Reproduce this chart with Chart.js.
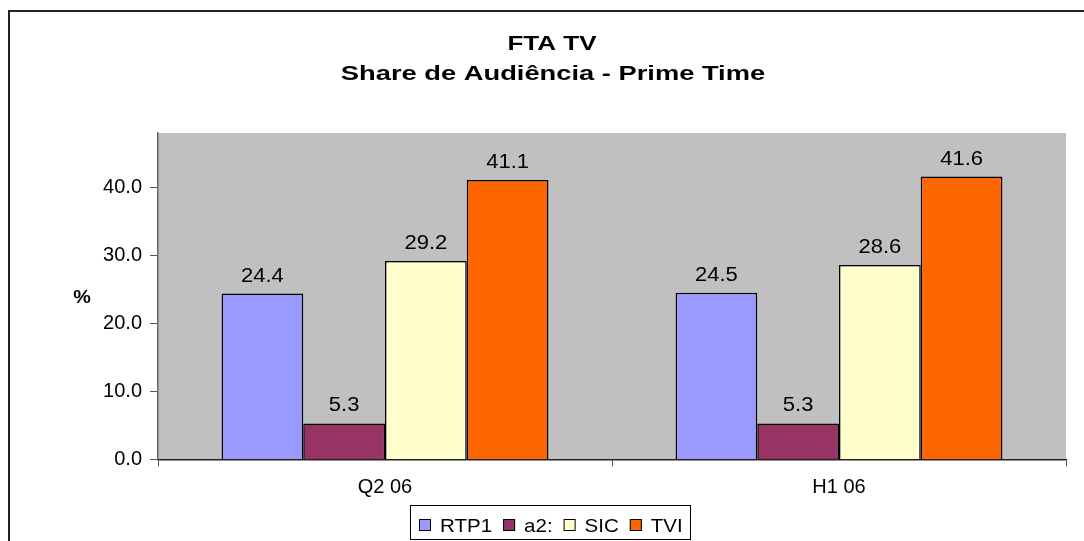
<!DOCTYPE html>
<html>
<head>
<meta charset="utf-8">
<script src="https://cdn.jsdelivr.net/npm/chart.js@4.4.1/dist/chart.umd.min.js"></script>
<style>
  html, body { margin: 0; padding: 0; background: #fff; overflow: hidden; }
  #wrap { width: 1084px; height: 541px; position: relative; }
</style>
</head>
<body>
<div id="wrap"><canvas id="c" width="1084" height="541"></canvas></div>
<script>
const categories = ['Q2 06', 'H1 06'];
const seriesNames = ['RTP1', 'a2:', 'SIC', 'TVI'];
const rtp1 = [24.4, 24.5];
const a2 = [5.3, 5.3];
const sic = [29.2, 28.6];
const tvi = [41.1, 41.6];
const seriesColors = ['#9999FF', '#993366', '#FFFFCC', '#FF6600'];
const titleLines = ['FTA TV', 'Share de Audiência - Prime Time'];

const FONT = '"Liberation Sans", Arial, sans-serif';

// text drawn by hand is a bit wider than plain Arial in the reference
function stretchText(ctx, text, x, y, sx, align) {
  ctx.save();
  ctx.translate(x, y);
  ctx.scale(sx, 1);
  ctx.textAlign = align || 'center';
  ctx.fillText(text, 0, 0);
  ctx.restore();
}

const decorPlugin = {
  id: 'decor',
  beforeDraw(chart) {
    const { ctx, chartArea: a } = chart;
    ctx.save();
    ctx.fillStyle = '#C0C0C0';
    ctx.fillRect(a.left, a.top, a.right - a.left, a.bottom - a.top);
    ctx.restore();
  },
  afterDraw(chart) {
    const ctx = chart.ctx;
    ctx.save();
    // outer frame (only left and top edges are visible)
    ctx.strokeStyle = '#222';
    ctx.lineWidth = 2;
    ctx.beginPath();
    ctx.moveTo(9, 545);
    ctx.lineTo(9, 11);
    ctx.lineTo(1090, 11);
    ctx.stroke();

    // title
    ctx.fillStyle = '#000';
    ctx.textBaseline = 'alphabetic';
    ctx.font = 'bold 20px ' + FONT;
    stretchText(ctx, titleLines[0], 552, 50, 1.3);
    ctx.font = 'bold 21px ' + FONT;
    stretchText(ctx, titleLines[1], 553, 80, 1.3);

    // y axis title
    ctx.font = 'bold 18px ' + FONT;
    stretchText(ctx, '%', 82, 303, 1.1);

    // value labels
    ctx.font = '20px ' + FONT;
    chart.data.datasets.forEach((ds, i) => {
      const meta = chart.getDatasetMeta(i);
      meta.data.forEach((bar, j) => {
        stretchText(ctx, ds.data[j].toFixed(1), bar.x, bar.y - 12, 1.1);
      });
    });

    // legend with frame
    ctx.strokeStyle = '#000';
    ctx.lineWidth = 1;
    ctx.strokeRect(410.5, 505.5, 280, 34);
    let x = 419;
    const cy = 525;
    ctx.font = '19px ' + FONT;
    chart.data.datasets.forEach((ds) => {
      ctx.fillStyle = ds.backgroundColor;
      ctx.fillRect(x, cy - 6, 12, 12);
      ctx.strokeStyle = '#000';
      ctx.strokeRect(x + 0.5, cy - 5.5, 11, 11);
      ctx.fillStyle = '#000';
      const w = ctx.measureText(ds.label).width * 1.08;
      stretchText(ctx, ds.label, x + 21, cy + 7, 1.08, 'left');
      x += 21 + w + 11;
    });
    ctx.restore();
  }
};

const allSeries = [rtp1, a2, sic, tvi];
const datasets = allSeries.map((vals, i) => ({
  label: seriesNames[i],
  data: vals,
  backgroundColor: seriesColors[i],
  borderColor: '#000',
  borderWidth: 1.5,
  borderSkipped: 'bottom',
  categoryPercentage: 0.72,
  barPercentage: 1.0
}));

new Chart(document.getElementById('c'), {
  type: 'bar',
  data: { labels: categories, datasets },
  options: {
    responsive: false,
    animation: false,
    devicePixelRatio: 1,
    layout: { padding: { left: 0, right: 18, top: 133, bottom: 41.5 } },
    plugins: {
      legend: { display: false },
      title: { display: false },
      tooltip: { enabled: false }
    },
    scales: {
      x: {
        offset: true,
        afterFit(scale) { scale.height = 40; },
        grid: { offset: true, drawOnChartArea: false, drawTicks: true, tickLength: 7, tickColor: '#555' },
        border: { display: true, color: '#222', width: 1.5 },
        ticks: { color: '#000', font: { family: FONT, size: 20 }, padding: 9 }
      },
      y: {
        min: 0,
        max: 48,
        afterFit(scale) { scale.width = 158; },
        afterBuildTicks(scale) { scale.ticks = scale.ticks.filter(t => t.value % 10 === 0); },
        grid: { drawOnChartArea: false, drawTicks: true, tickLength: 8, tickColor: '#555' },
        border: { display: true, color: '#666', width: 1.5 },
        ticks: {
          stepSize: 10,
          color: '#000',
          font: { family: FONT, size: 20 },
          padding: 8,
          callback: (v) => Number(v).toFixed(1)
        }
      }
    }
  },
  plugins: [decorPlugin]
});
</script>
</body>
</html>
